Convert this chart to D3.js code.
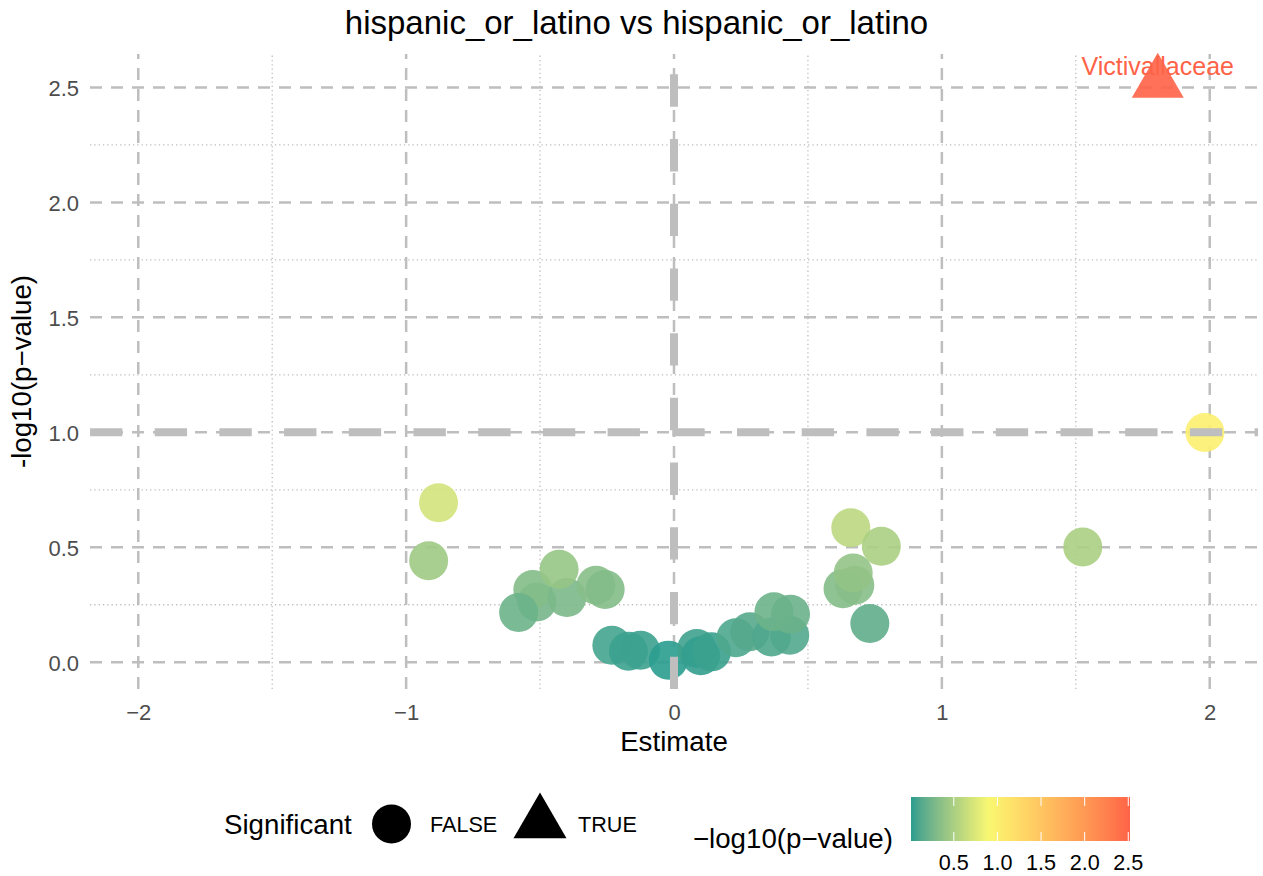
<!DOCTYPE html>
<html>
<head>
<meta charset="utf-8">
<script src="https://cdn.jsdelivr.net/npm/d3@7"></script>
<style>
  body { margin: 0; background: #fff; }
  text { font-family: "Liberation Sans", Arial, Helvetica, sans-serif; }
</style>
</head>
<body>
<svg id="chart" width="1263" height="876"></svg>
<script>
// Effect estimates and -log10(p-values) per taxon
const estimate = [-0.879, -0.916, -0.512, -0.527, -0.400, -0.429, -0.580, -0.291, -0.257,
                  -0.232, -0.170, -0.125, -0.021, 0.085, 0.100, 0.140, 0.231, 0.283, 0.364,
                  0.432, 0.373, 0.435, 0.631, 0.675, 0.669, 0.731, 0.660, 0.774, 1.526, 1.982, 1.806];
const negLog10P = [0.694, 0.441, 0.262, 0.316, 0.281, 0.404, 0.216, 0.335, 0.316,
                   0.074, 0.048, 0.052, 0.009, 0.060, 0.028, 0.045, 0.106, 0.132, 0.110,
                   0.117, 0.219, 0.209, 0.320, 0.335, 0.388, 0.168, 0.585, 0.504, 0.501, 0.999, 2.520];
const significant = [false, false, false, false, false, false, false, false, false,
                     false, false, false, false, false, false, false, false, false, false,
                     false, false, false, false, false, false, false, false, false, false, false, true];
const taxonLabel = ["", "", "", "", "", "", "", "", "", "", "", "", "", "", "", "", "", "", "", "",
                    "", "", "", "", "", "", "", "", "", "", "Victivallaceae"];

const xTicks = [-2, -1, 0, 1, 2];
const xMinor = [-1.5, -0.5, 0.5, 1.5];
const yTicks = [0, 0.5, 1, 1.5, 2, 2.5];
const yMinor = [0.25, 0.75, 1.25, 1.75, 2.25];
const legendTicks = [0.5, 1.0, 1.5, 2.0, 2.5];
const pThreshold = 1;     // -log10(0.1)
const estThreshold = 0;

const titleText = "hispanic_or_latino vs hispanic_or_latino";

const points = estimate.map((e, i) => ({
  x: e, y: negLog10P[i], sig: significant[i], label: taxonLabel[i]
}));

const svg = d3.select("#chart");
const panel = { left: 90, right: 1258, top: 54, bottom: 689 };

const xLim = 1.1 * d3.max(estimate, d => Math.abs(d));
const x = d3.scaleLinear().domain([-xLim, xLim]).range([panel.left, panel.right]);

const yExt = d3.extent(negLog10P);
const yPad = 0.05 * (yExt[1] - yExt[0]);
const y = d3.scaleLinear().domain([yExt[0] - yPad, yExt[1] + yPad]).range([panel.bottom, panel.top]);

const color = d3.scaleLinear()
  .domain([yExt[0], 0.9, yExt[1]])
  .range(["#2A9D8F", "#F9F871", "#FF6347"])
  .interpolate(d3.interpolateLab);

const gridColor = "#BEBEBE";
const tickColor = "#4D4D4D";
const minus = s => s.replace("-", "\u2212");

const FS_TITLE = 33, FS_AXIS_TITLE = 27.7, FS_TICK = 22, FS_LEGEND_TEXT = 21.6, FS_LABEL = 25;

// minor grid (dotted)
const grid = svg.append("g");
grid.selectAll(".mx").data(xMinor).join("line")
  .attr("x1", d => x(d)).attr("x2", d => x(d))
  .attr("y1", panel.bottom).attr("y2", panel.top)
  .attr("stroke", gridColor).attr("stroke-width", 1.3).attr("stroke-dasharray", "1.3,3");
grid.selectAll(".my").data(yMinor).join("line")
  .attr("x1", panel.left).attr("x2", panel.right)
  .attr("y1", d => y(d)).attr("y2", d => y(d))
  .attr("stroke", gridColor).attr("stroke-width", 1.3).attr("stroke-dasharray", "1.3,3");

// major grid (dashed)
grid.selectAll(".Mx").data(xTicks).join("line")
  .attr("x1", d => x(d)).attr("x2", d => x(d))
  .attr("y1", panel.bottom).attr("y2", panel.top)
  .attr("stroke", gridColor).attr("stroke-width", 2.5).attr("stroke-dasharray", "12,9");
grid.selectAll(".My").data(yTicks).join("line")
  .attr("x1", panel.left).attr("x2", panel.right)
  .attr("y1", d => y(d)).attr("y2", d => y(d))
  .attr("stroke", gridColor).attr("stroke-width", 2.5).attr("stroke-dasharray", "12,9");

// axes
const xAxis = d3.axisBottom(x).tickValues(xTicks).tickSize(0).tickPadding(0)
  .tickFormat(d => minus(d3.format("d")(d)));
const gx = svg.append("g").attr("transform", `translate(0,${panel.bottom + 31})`).call(xAxis);
const yAxis = d3.axisLeft(y).tickValues(yTicks).tickSize(0).tickPadding(0)
  .tickFormat(d3.format(".1f"));
const gy = svg.append("g").attr("transform", `translate(${panel.left - 11},0)`).call(yAxis);
[gx, gy].forEach(g => {
  g.select(".domain").remove();
  g.selectAll("text").attr("font-size", FS_TICK).attr("fill", tickColor)
    .attr("font-family", '"Liberation Sans", Arial, sans-serif');
});
gx.selectAll("text").attr("dy", "0");
gy.selectAll("text").attr("dy", "0.36em");

// labels for significant taxa (drawn beneath the markers)
svg.append("g").selectAll("text").data(points.filter(d => d.label)).join("text")
  .attr("x", d => x(d.x)).attr("y", d => y(d.y) - 17)
  .attr("dy", "0.36em")
  .attr("text-anchor", "middle").attr("font-size", FS_LABEL)
  .attr("fill", d => color(d.y)).text(d => d.label);

// triangle marker path (R pch 17 geometry)
const triPath = r => {
  const hw = r * Math.sqrt(3) / 2;
  return `M0,${-r}L${hw},${r / 2}L${-hw},${r / 2}Z`;
};

const marks = svg.append("g");
points.forEach(d => {
  if (d.sig) {
    marks.append("path").attr("d", triPath(30))
      .attr("transform", `translate(${x(d.x)},${y(d.y)})`)
      .attr("fill", color(d.y)).attr("fill-opacity", 0.9);
  } else {
    marks.append("circle").attr("cx", x(d.x)).attr("cy", y(d.y)).attr("r", 19.5)
      .attr("fill", color(d.y)).attr("fill-opacity", 0.9);
  }
});

// threshold lines (over the markers)
svg.append("line")
  .attr("x1", panel.left).attr("x2", panel.right)
  .attr("y1", y(pThreshold)).attr("y2", y(pThreshold))
  .attr("stroke", gridColor).attr("stroke-width", 8).attr("stroke-dasharray", "32.35,32.35");
svg.append("line")
  .attr("x1", x(estThreshold)).attr("x2", x(estThreshold))
  .attr("y1", panel.bottom).attr("y2", panel.top)
  .attr("stroke", gridColor).attr("stroke-width", 8).attr("stroke-dasharray", "32.35,32.35");

// titles
svg.append("text").attr("x", 636.5).attr("y", 34).attr("text-anchor", "middle")
  .attr("font-size", FS_TITLE).attr("fill", "#000").text(titleText);
svg.append("text").attr("x", 674).attr("y", 751).attr("text-anchor", "middle")
  .attr("font-size", FS_AXIS_TITLE).attr("fill", "#000").text("Estimate");
svg.append("text").attr("transform", `translate(31,${(panel.top + panel.bottom) / 2}) rotate(-90)`)
  .attr("text-anchor", "middle").attr("font-size", FS_AXIS_TITLE).attr("fill", "#000")
  .text("-log10(p\u2212value)");

// shape legend
const lg = svg.append("g");
lg.append("text").attr("x", 224).attr("y", 834).attr("font-size", FS_AXIS_TITLE).text("Significant");
lg.append("circle").attr("cx", 391.5).attr("cy", 824).attr("r", 19.5).attr("fill", "#000");
lg.append("text").attr("x", 430).attr("y", 832).attr("font-size", FS_LEGEND_TEXT).text("FALSE");
lg.append("path").attr("d", triPath(30.6)).attr("transform", "translate(540,823)").attr("fill", "#000");
lg.append("text").attr("x", 578).attr("y", 832).attr("font-size", FS_LEGEND_TEXT).text("TRUE");

// colour bar legend
const cb = { x0: 911, x1: 1130, y0: 797, y1: 841 };
const cbScale = d3.scaleLinear().domain(yExt).range([cb.x0, cb.x1]);
const grad = svg.append("defs").append("linearGradient").attr("id", "cbGrad")
  .attr("x1", "0%").attr("x2", "100%").attr("y1", "0%").attr("y2", "0%");
d3.range(0, 41).forEach(i => {
  const v = yExt[0] + (yExt[1] - yExt[0]) * i / 40;
  grad.append("stop").attr("offset", `${i * 2.5}%`).attr("stop-color", color(v));
});
svg.append("rect").attr("x", cb.x0).attr("y", cb.y0)
  .attr("width", cb.x1 - cb.x0).attr("height", cb.y1 - cb.y0).attr("fill", "url(#cbGrad)");
const cbt = svg.append("g");
legendTicks.forEach(t => {
  const px = cbScale(t);
  cbt.append("line").attr("x1", px).attr("x2", px).attr("y1", cb.y0).attr("y2", cb.y0 + 9)
    .attr("stroke", "#fff").attr("stroke-width", 1);
  cbt.append("line").attr("x1", px).attr("x2", px).attr("y1", cb.y1 - 9).attr("y2", cb.y1)
    .attr("stroke", "#fff").attr("stroke-width", 1);
  cbt.append("text").attr("x", px).attr("y", 870).attr("text-anchor", "middle")
    .attr("font-size", FS_LEGEND_TEXT).attr("fill", "#000").text(d3.format(".1f")(t));
});
svg.append("text").attr("x", 893).attr("y", 848).attr("text-anchor", "end")
  .attr("font-size", FS_AXIS_TITLE).attr("fill", "#000").text("\u2212log10(p\u2212value)");
</script>
</body>
</html>
